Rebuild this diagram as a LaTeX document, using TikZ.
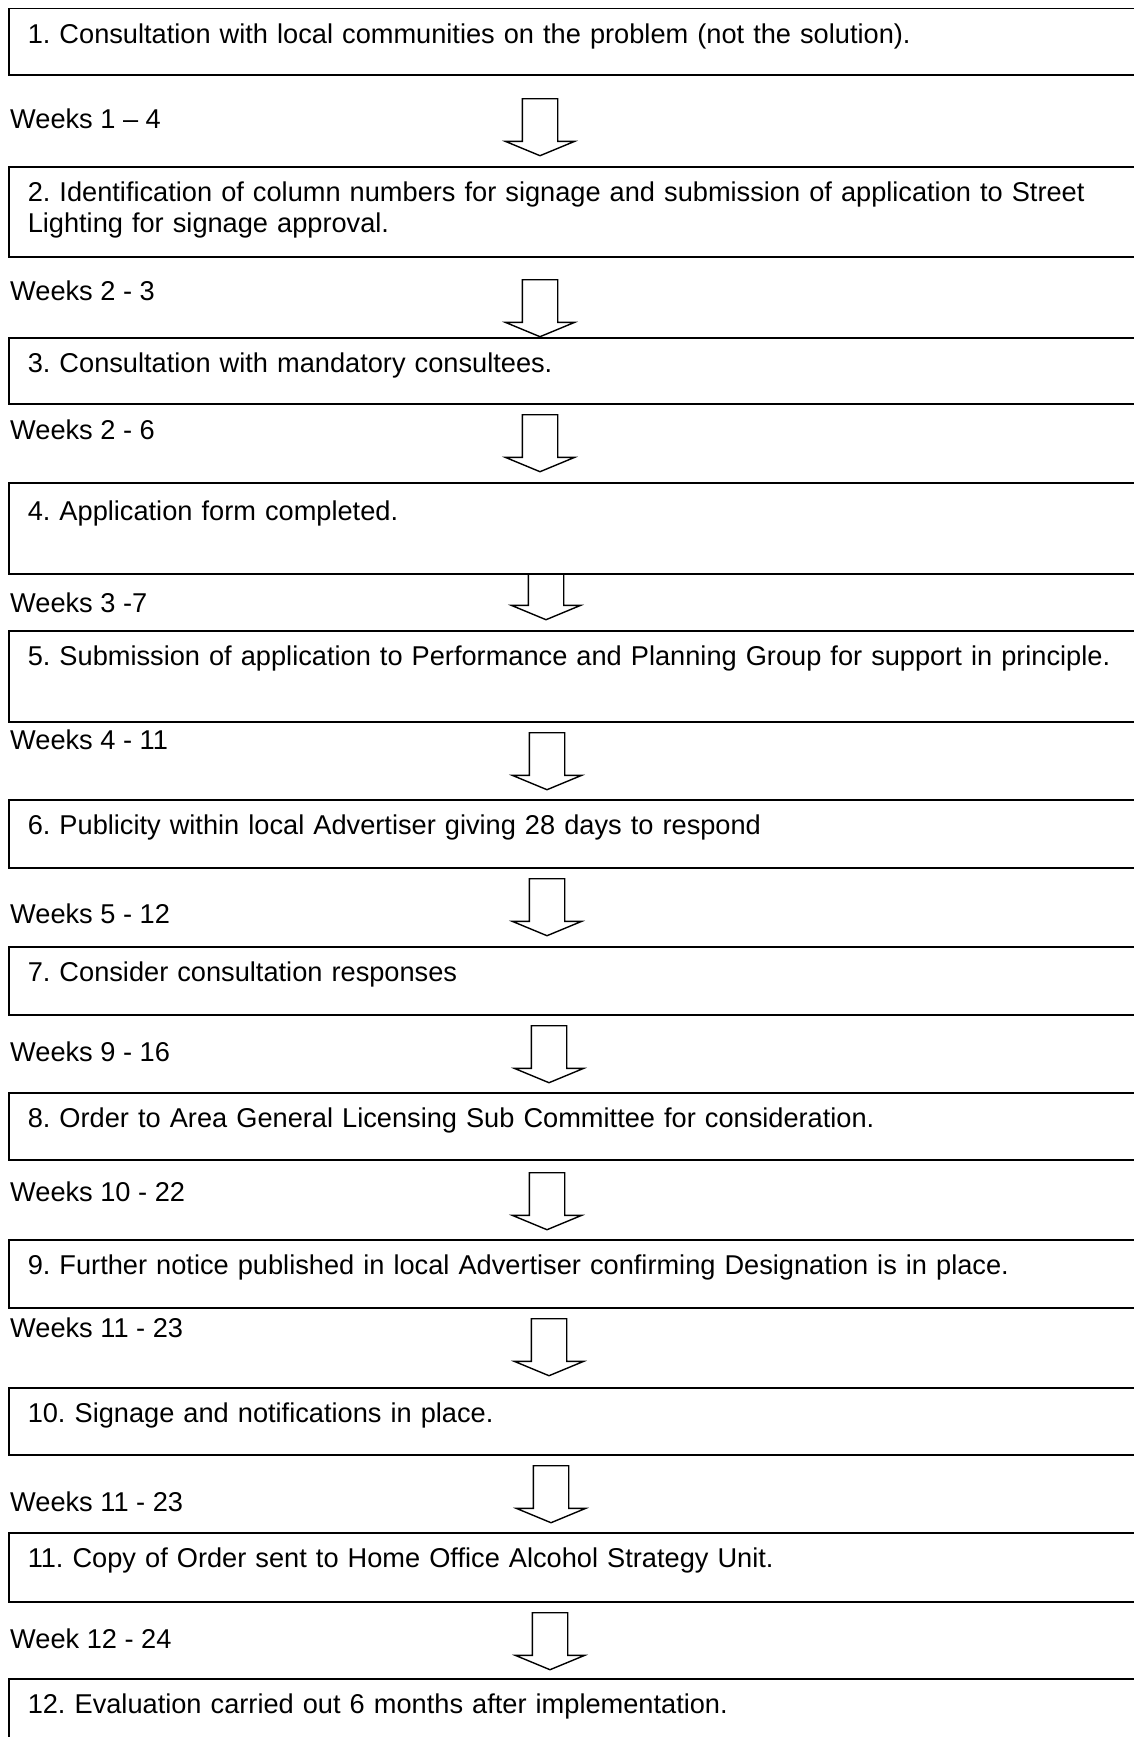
\documentclass[tikz,border=0pt]{standalone}
\usepackage{fontspec}
\setmainfont{Liberation Sans}
\usetikzlibrary{shapes.arrows}
\frenchspacing

\begin{document}
\begin{tikzpicture}[x=1pt, y=-1pt,
  stepbox/.style={draw, line width=1.5pt, anchor=north west, align=left, text width=1150pt,
    inner xsep=19pt, inner ysep=0pt, text height=35pt, text depth=#1, font=\fontsize{27.2}{30.5}\selectfont},
  weeks/.style={anchor=base west, inner sep=0pt, font=\fontsize{27.2}{30.5}\selectfont},
  downarrow/.style={single arrow, draw, line width=1.4pt, shape border rotate=270, inner sep=17pt,
    minimum width=68pt, single arrow head extend=17pt, single arrow tip angle=135, minimum height=#1, anchor=tail},
  downarrow/.default=57pt,
]

\useasboundingbox (0,0) rectangle (1134,1737);
\clip (0,0) rectangle (1134,1737);

% Steps
\node[stepbox=31pt] (s1) at (8,8) {1. Consultation with local communities on the problem (not the solution).};
\node[stepbox=55pt] (s2) at (8,166) {2. Identification of column numbers for signage and submission of application to Street\\Lighting for signage approval.};
\node[stepbox=31pt] (s3) at (8,337) {3. Consultation with mandatory consultees.};
\node[stepbox=53pt, text height=38pt] (s4) at (8,482) {4. Application form completed.};
\node[stepbox=56pt] (s5) at (8,630) {5. Submission of application to Performance and Planning Group for support in principle.};
\node[stepbox=33pt] (s6) at (8,799) {6. Publicity within local Advertiser giving 28 days to respond};
\node[stepbox=33pt] (s7) at (8,946) {7. Consider consultation responses};
\node[stepbox=32pt] (s8) at (8,1092) {8. Order to Area General Licensing Sub Committee for consideration.};
\node[stepbox=33pt] (s9) at (8,1239) {9. Further notice published in local Advertiser confirming Designation is in place.};
\node[stepbox=32pt] (s10) at (8,1387) {10. Signage and notifications in place.};
\node[stepbox=34pt] (s11) at (8,1532) {11. Copy of Order sent to Home Office Alcohol Strategy Unit.};
\node[stepbox=60pt] (s12) at (8,1678) {12. Evaluation carried out 6 months after implementation.};

% Durations
\node[weeks] (w1) at (10,128) {Weeks 1 – 4};
\node[weeks] (w2) at (10,300) {Weeks 2 - 3};
\node[weeks] (w3) at (10,439) {Weeks 2 - 6};
\node[weeks] (w4) at (10,612) {Weeks 3 -7};
\node[weeks] (w5) at (10,749) {Weeks 4 - 11};
\node[weeks] (w6) at (10,923) {Weeks 5 - 12};
\node[weeks] (w7) at (10,1061) {Weeks 9 - 16};
\node[weeks] (w8) at (10,1201) {Weeks 10 - 22};
\node[weeks] (w9) at (10,1337) {Weeks 11 - 23};
\node[weeks] (w10) at (10,1511) {Weeks 11 - 23};
\node[weeks] (w11) at (10,1648) {Week 12 - 24};

% Block arrows between steps
\node[downarrow] (a1) at (540,98) {};
\node[downarrow] (a2) at (540,279) {};
\node[downarrow] (a3) at (540,414) {};
\node[downarrow=46pt] (a4) at (546,573) {};
\node[downarrow] (a5) at (547,732) {};
\node[downarrow] (a6) at (547,878) {};
\node[downarrow] (a7) at (549,1025) {};
\node[downarrow] (a8) at (547,1172) {};
\node[downarrow] (a9) at (549,1318) {};
\node[downarrow] (a10) at (551,1465) {};
\node[downarrow] (a11) at (550,1612) {};

\end{tikzpicture}
\end{document}
